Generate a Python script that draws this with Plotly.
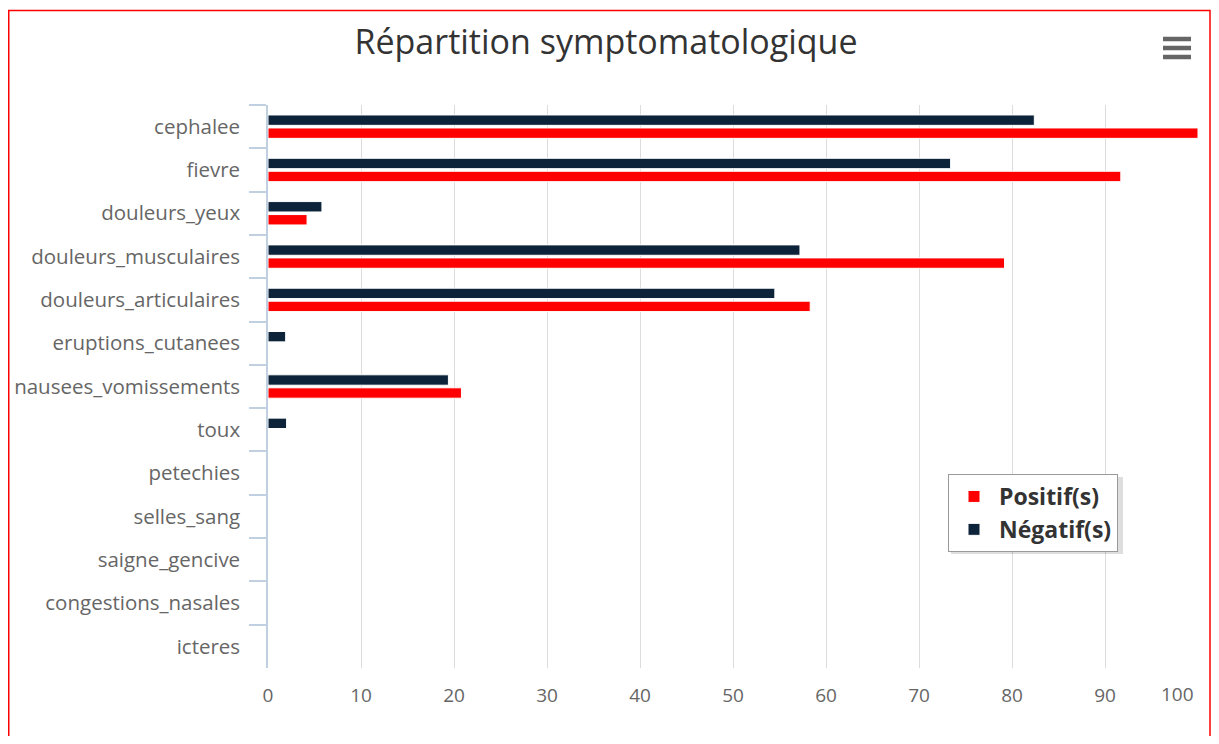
import plotly.graph_objects as go

categories = ["cephalee", "fievre", "douleurs_yeux", "douleurs_musculaires",
              "douleurs_articulaires", "eruptions_cutanees", "nausees_vomissements",
              "toux", "petechies", "selles_sang", "saigne_gencive",
              "congestions_nasales", "icteres"]
positif = [100, 91.7, 4.2, 79.2, 58.3, 0, 20.8, 0, 0, 0, 0, 0, 0]
negatif = [82.4, 73.4, 5.8, 57.2, 54.5, 1.9, 19.4, 2.0, 0, 0, 0, 0, 0]
x_ticks = [0, 10, 20, 30, 40, 50, 60, 70, 80, 90, 100]

# page has an 8px body margin: figure coords = page coords - 8
OFF = 8
W, H = 1219 - OFF, 744 - 2 * OFF
L, R, T, B = 268 - OFF, 1198 - OFF, 105 - OFF, 668 - OFF

def px(x):  # page x -> paper
    return (x - OFF - L) / (R - L)

def py(y):  # page y -> paper
    return (B - (y - OFF)) / (B - T)

FONT = "Open Sans, Noto Sans, DejaVu Sans, sans-serif"
TICKFONT = dict(family=FONT, size=19, color="#666666")

fig = go.Figure()
fig.add_trace(go.Bar(
    name="Négatif(s)", y=categories, x=negatif, orientation="h",
    marker=dict(color="#0D233A", line=dict(color="#FFFFFF", width=1)),
))
fig.add_trace(go.Bar(
    name="Positif(s)", y=categories, x=positif, orientation="h",
    marker=dict(color="#FF0000", line=dict(color="#FFFFFF", width=1)),
))

shapes = [
    # outer red frame
    dict(type="rect", xref="paper", yref="paper", x0=px(8.75), x1=px(1210),
         y0=py(770), y1=py(10.5), line=dict(color="#FF0000", width=1.5),
         fillcolor="rgba(0,0,0,0)", layer="below"),
    # legend shadow
    dict(type="rect", xref="paper", yref="paper", x0=px(951), x1=px(1123),
         y0=py(554), y1=py(477), line=dict(width=0),
         fillcolor="rgba(0,0,0,0.13)", layer="above"),
]
# hamburger menu icon
for yy in (39, 48, 57):
    shapes.append(dict(type="line", xref="paper", yref="paper",
                       x0=px(1163), x1=px(1191), y0=py(yy), y1=py(yy),
                       line=dict(color="#666666", width=4.5)))

# last x tick label is pulled inside the plot edge (as in the original)
tick_text = [str(v) for v in x_ticks[:-1]] + [""]
annotations = [dict(x=x_ticks[-1], xref="x", y=py(694), yref="paper",
                    text=str(x_ticks[-1]), showarrow=False, xanchor="right",
                    yanchor="middle", xshift=-2, font=TICKFONT)]

fig.update_layout(
    width=W, height=H,
    margin=dict(l=L, r=W - R, t=T, b=H - B, pad=0, autoexpand=False),
    paper_bgcolor="#FFFFFF", plot_bgcolor="#FFFFFF",
    barmode="group", bargap=0.4, bargroupgap=0.2,
    font=dict(family=FONT, color="#666666"),
    title=dict(text="Répartition symptomatologique", x=(606 - OFF) / W, xref="container",
               xanchor="center", y=1 - (42 - OFF) / H, yref="container", yanchor="middle",
               font=dict(family=FONT, size=34, color="#333333")),
    xaxis=dict(range=[0, 100], tickvals=x_ticks, ticktext=tick_text, showgrid=True,
               automargin=False, gridcolor="#DCDCDC", gridwidth=1, zeroline=False,
               showline=False, ticks="", tickfont=TICKFONT,
               ticklabelstandoff=14, fixedrange=True),
    yaxis=dict(type="category", autorange="reversed", showgrid=False, automargin=False,
               zeroline=False, showline=True, linecolor="#C0D0E0", linewidth=1.5,
               ticks="outside", tickson="boundaries", ticklen=17,
               tickcolor="#C0D0E0", tickwidth=1.5,
               tickfont=dict(size=20.5, color="#666666"), ticklabelstandoff=22,
               fixedrange=True),
    legend=dict(x=px(948), y=py(474), xanchor="left", yanchor="top",
                traceorder="reversed", bgcolor="#FFFFFF", bordercolor="#999999",
                borderwidth=1, font=dict(family=FONT, size=23, color="#333333",
                                         weight="bold"),
                itemwidth=40),
    shapes=shapes,
    annotations=annotations,
    showlegend=True,
)

fig.write_html("out.html")
